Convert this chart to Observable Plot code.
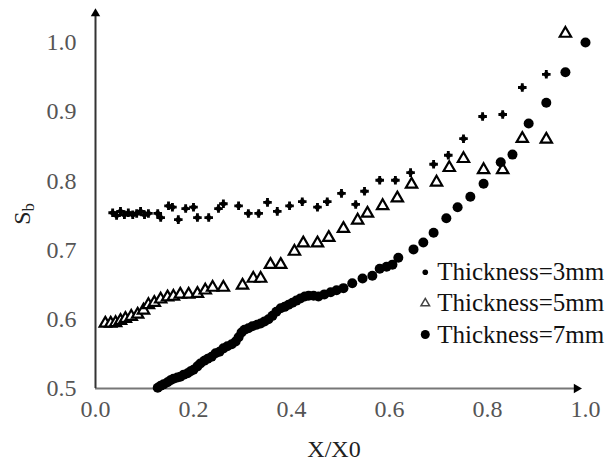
<!DOCTYPE html>
<html>
<head>
<meta charset="utf-8">
<script src="https://cdn.jsdelivr.net/npm/d3@7"></script>
<script src="https://cdn.jsdelivr.net/npm/@observablehq/plot@0.6"></script>
<style>
  html, body { margin: 0; padding: 0; background: #fff; }
  #chart { width: 613px; height: 465px; overflow: hidden; }
</style>
</head>
<body>
<div id="chart"></div>
<script>
// ---- tick labels ----
const xTicks = [0.0, 0.2, 0.4, 0.6, 0.8, 1.0];
const yTicks = [0.5, 0.6, 0.7, 0.8, 0.9, 1.0];

// ---- series: Thickness = 3 mm ----
const x3 = [0.035,0.043,0.051,0.059,0.067,0.076,0.084,0.092,0.100,0.108,0.127,0.133,0.149,0.157,0.169,0.184,0.200,0.208,0.231,0.251,0.261,0.292,0.312,0.333,0.351,0.371,0.396,0.422,0.453,0.473,0.502,0.531,0.549,0.580,0.612,0.643,0.690,0.720,0.751,0.790,0.831,0.871,0.920];
const y3 = [0.754,0.750,0.756,0.751,0.754,0.751,0.753,0.756,0.751,0.753,0.753,0.747,0.764,0.762,0.744,0.760,0.762,0.747,0.747,0.760,0.767,0.764,0.753,0.753,0.769,0.756,0.764,0.770,0.762,0.770,0.782,0.766,0.785,0.801,0.801,0.812,0.824,0.837,0.861,0.893,0.896,0.935,0.954];

// ---- series: Thickness = 5 mm ----
const x5 = [0.020,0.031,0.041,0.051,0.061,0.073,0.086,0.098,0.108,0.120,0.133,0.147,0.159,0.173,0.190,0.208,0.224,0.239,0.261,0.300,0.322,0.337,0.357,0.378,0.406,0.424,0.453,0.476,0.506,0.535,0.555,0.586,0.616,0.645,0.696,0.722,0.751,0.792,0.831,0.871,0.920,0.959];
const y5 = [0.594,0.594,0.595,0.598,0.601,0.604,0.607,0.613,0.621,0.624,0.629,0.632,0.633,0.636,0.636,0.637,0.642,0.646,0.646,0.649,0.659,0.659,0.679,0.679,0.698,0.710,0.710,0.718,0.731,0.743,0.753,0.764,0.775,0.795,0.798,0.819,0.832,0.816,0.816,0.861,0.860,1.013];

// ---- series: Thickness = 7 mm ----
const x7 = [0.127,0.133,0.139,0.147,0.153,0.159,0.167,0.173,0.180,0.188,0.194,0.200,0.208,0.214,0.222,0.229,0.237,0.245,0.253,0.261,0.269,0.278,0.286,0.292,0.298,0.304,0.312,0.320,0.329,0.337,0.345,0.353,0.361,0.369,0.378,0.386,0.394,0.402,0.410,0.418,0.427,0.435,0.445,0.455,0.467,0.480,0.492,0.506,0.524,0.545,0.565,0.580,0.594,0.606,0.618,0.649,0.669,0.690,0.716,0.739,0.765,0.792,0.827,0.851,0.884,0.920,0.959,1.000];
const y7 = [0.501,0.504,0.506,0.509,0.512,0.514,0.516,0.517,0.520,0.522,0.525,0.527,0.532,0.536,0.540,0.543,0.546,0.551,0.553,0.558,0.561,0.564,0.568,0.574,0.581,0.585,0.587,0.590,0.592,0.594,0.597,0.600,0.605,0.611,0.616,0.618,0.621,0.624,0.627,0.630,0.633,0.634,0.634,0.633,0.636,0.639,0.642,0.645,0.652,0.659,0.663,0.673,0.676,0.679,0.689,0.701,0.711,0.725,0.746,0.762,0.777,0.796,0.827,0.838,0.883,0.913,0.957,1.000];

// ---- legend ----
const legendLabels = ["Thickness=3mm", "Thickness=5mm", "Thickness=7mm"];
const legendX = 0.673;
const legendY = [0.668, 0.623, 0.578];

const zip = (xs, ys) => xs.map((x, i) => ({x, y: ys[i]}));
const d3mm = zip(x3, y3);
const d5mm = zip(x5, y5);
const d7mm = zip(x7, y7);
const legend = legendLabels.map((t, i) => ({label: t, x: legendX, y: legendY[i], k: i}));

// pick an installed Times-like serif font
function hasFont(name) {
  const c = document.createElement("canvas").getContext("2d");
  const s = "Thickness=3mm 0.123456789 WXYZ";
  c.font = "40px monospace"; const a = c.measureText(s).width;
  c.font = `40px "${name}", monospace`; const b = c.measureText(s).width;
  c.font = "40px sans-serif"; const a2 = c.measureText(s).width;
  c.font = `40px "${name}", sans-serif`; const b2 = c.measureText(s).width;
  return a !== b || a2 !== b2;
}
const candidates = ["Liberation Serif", "Times New Roman", "Tinos", "Nimbus Roman", "FreeSerif", "DejaVu Serif"];
const found = candidates.find(hasFont) || "serif";
const serif = `"${found}", serif`;

const chart = Plot.plot({
  width: 613,
  height: 465,
  marginLeft: 95,
  marginRight: 28,
  marginTop: 42,
  marginBottom: 77,
  x: {domain: [0, 1]},
  y: {domain: [0.5, 1]},
  style: {fontFamily: serif, fontSize: "24px", background: "#fff", color: "#555", overflow: "visible"},
  marks: [
    Plot.axisX(xTicks, {tickSize: 0, tickPadding: 11, tickFormat: d3.format(".1f"), label: null}),
    Plot.axisY(yTicks, {tickSize: 0, tickPadding: 19, tickFormat: d3.format(".1f"), label: null}),
    // axis lines with arrow heads
    Plot.ruleY([0.5], {x1: 0, x2: 0.985, stroke: "#777", strokeWidth: 2}),
    Plot.ruleX([0], {y1: 0.5, y2: 1.04, stroke: "#333", strokeWidth: 2}),
    Plot.dot([{x: 0.996, y: 0.5}], {x: "x", y: "y", symbol: "triangle2", r: 4.5, fill: "#000", stroke: "none", rotate: 90, dx: -7}),
    Plot.dot([{x: 0, y: 1.049}], {x: "x", y: "y", symbol: "triangle2", r: 4.5, fill: "#000", stroke: "none", dy: 5}),
    // series
    Plot.dot(d3mm, {x: "x", y: "y", symbol: "cross", r: 3.6, fill: "#000", stroke: "none"}),
    Plot.dot(d3mm, {x: "x", y: "y", symbol: "circle", r: 2.6, fill: "#000", stroke: "none"}),
    Plot.dot(d5mm, {x: "x", y: "y", symbol: "triangle", r: 4.2, fill: "#fff", stroke: "#000", strokeWidth: 2.2}),
    Plot.dot(d7mm, {x: "x", y: "y", symbol: "circle", r: 5, fill: "#000", stroke: "none"}),
    // legend
    Plot.dot(legend.filter(d => d.k === 0), {x: "x", y: "y", symbol: "circle", r: 2.8, fill: "#000", stroke: "none"}),
    Plot.dot(legend.filter(d => d.k === 1), {x: "x", y: "y", symbol: "triangle", r: 3.2, fill: "#fff", stroke: "#444", strokeWidth: 1.5}),
    Plot.dot(legend.filter(d => d.k === 2), {x: "x", y: "y", symbol: "circle", r: 4.5, fill: "#000", stroke: "none"}),
    Plot.text(legend, {x: "x", y: "y", text: "label", dx: 12, textAnchor: "start", fill: "#111", fontSize: 25})
  ]
});

// axis titles (with subscript)
const svg = d3.select(chart);
svg.append("text")
  .attr("x", 334).attr("y", 451)
  .attr("text-anchor", "middle").attr("dominant-baseline", "middle")
  .attr("fill", "#222").attr("font-size", 24).attr("font-family", serif)
  .text("X/X0");
const yl = svg.append("text")
  .attr("transform", "translate(24,214) rotate(-90)")
  .attr("text-anchor", "middle").attr("dominant-baseline", "middle")
  .attr("fill", "#222").attr("font-size", 24).attr("font-family", serif);
yl.append("tspan").text("S");
yl.append("tspan").attr("font-size", 16).attr("dy", 6).text("b");

document.getElementById("chart").append(chart);
</script>
</body>
</html>
